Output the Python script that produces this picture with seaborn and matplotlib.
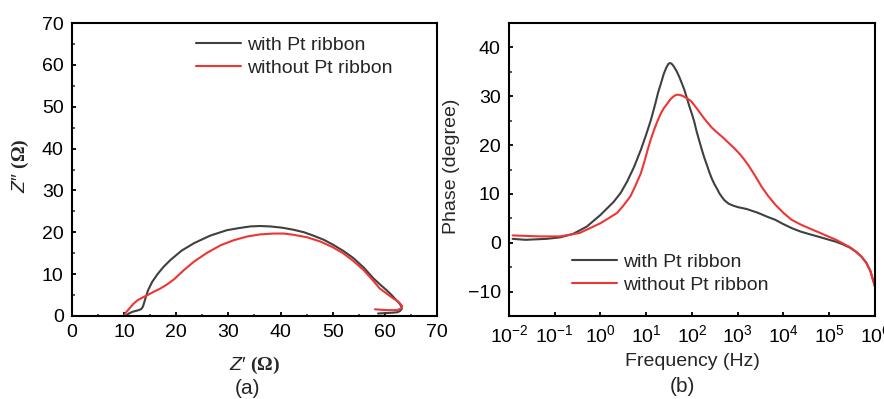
import matplotlib
matplotlib.use("Agg")
import matplotlib.pyplot as plt
import numpy as np
import pandas as pd
import seaborn as sns

sns.set_theme(style="ticks")
plt.rcParams["font.family"] = ["Liberation Sans", "DejaVu Sans"]
plt.rcParams["mathtext.fontset"] = "custom"
plt.rcParams["mathtext.rm"] = "Liberation Sans"
plt.rcParams["mathtext.it"] = "Liberation Sans:italic"
plt.rcParams["mathtext.bf"] = "Liberation Serif:bold"

SERIES = ["with Pt ribbon", "without Pt ribbon"]
COLORS = ["#404040", "#ee3535"]

# Nyquist plot (a): Z' and Z'' in ohm
zre_with = [10.3, 10.9, 11.6, 12.5, 13.2, 13.5, 13.7, 14.1, 14.6, 15.4, 16.4, 17.6, 18.9, 21.0,
            23.4, 26.5, 29.7, 32.0, 34.2, 36.0, 38.0, 40.3, 42.5, 44.5, 46.3, 48.3, 50.1,
            52.1, 54.0, 56.0, 57.8, 59.1, 60.3, 61.3, 62.2, 62.8, 63.2, 63.2, 62.9, 62.4,
            61.6, 60.2, 58.7]
zim_with = [0.0, 0.6, 1.0, 1.3, 1.6, 2.0, 2.6, 4.3, 6.2, 8.2, 10.0, 11.8, 13.4, 15.6,
            17.4, 19.2, 20.5, 21.0, 21.4, 21.5, 21.4, 21.1, 20.6, 20.0, 19.2, 18.2, 17.0,
            15.5, 13.8, 11.5, 9.0, 7.5, 6.2, 5.0, 3.8, 3.0, 2.2, 1.6, 1.2, 0.9,
            0.8, 0.7, 0.6]

zre_without = [9.9, 10.4, 11.0, 11.7, 12.5, 13.5, 14.5, 15.7, 17.0, 18.3, 19.6, 21.4, 23.4,
               25.9, 28.5, 31.0, 33.6, 36.1, 38.7, 40.6, 42.5, 45.1, 47.6, 49.9, 52.0,
               54.0, 55.9, 57.5, 59.0, 60.4, 61.6, 62.4, 62.9, 63.3, 63.2, 62.8, 62.2,
               61.2, 60.3, 59.2, 58.1]
zim_without = [0.0, 0.9, 1.8, 2.8, 3.7, 4.4, 5.0, 5.8, 6.6, 7.6, 8.8, 10.9, 13.0,
               15.1, 16.9, 18.1, 19.0, 19.5, 19.7, 19.7, 19.4, 18.8, 17.8, 16.5, 15.0,
               13.1, 11.0, 8.8, 6.6, 5.3, 4.2, 3.6, 3.0, 2.4, 1.8, 1.6, 1.4,
               1.4, 1.4, 1.5, 1.6]

# Bode phase plot (b): frequency in Hz, phase in degree
freq_with = [0.012, 0.023, 0.066, 0.13, 0.25, 0.5, 1.0, 1.95, 2.8, 3.8, 5.4, 7.6, 10.0,
             12.6, 15.8, 18.2, 20.9, 24.0, 27.5, 30.9, 33.9, 37.2, 40.7, 45.7, 52.5,
             60.3, 67.6, 77.6, 87.1, 100, 112, 126, 145, 166, 186, 214, 240, 275, 309,
             355, 398, 457, 513, 631, 794, 1000, 1580, 2820, 4470, 6610, 10000, 15100,
             23400, 35500, 60300, 100000, 141000, 195000, 282000, 380000, 501000,
             646000, 794000, 1000000]
phase_with = [0.8, 0.6, 0.8, 1.1, 1.8, 3.3, 5.7, 8.4, 10.3, 12.5, 15.5, 19.0, 22.2,
              25.1, 28.5, 30.8, 32.6, 34.5, 35.9, 36.7, 36.8, 36.5, 36.0, 35.2, 34.0,
              32.6, 31.4, 29.6, 28.0, 26.3, 24.8, 22.8, 20.8, 18.9, 17.4, 15.8, 14.4, 13.0, 12.0,
              11.0, 10.1, 9.3, 8.7, 8.0, 7.6, 7.3, 6.9, 6.1, 5.3, 4.7, 3.8, 3.0,
              2.3, 1.8, 1.2, 0.6, 0.2, -0.3, -1.0, -1.8, -2.8,
              -4.1, -5.8, -9.0]

freq_without = [0.012, 0.047, 0.13, 0.35, 1.0, 2.3, 3.16, 4.5, 5.75, 7.6, 9.1, 10.7,
                12.6, 14.8, 17.4, 20.4, 24.0, 28.8, 33.9, 39.8, 45.7, 52.5, 61.7, 70.8,
                83.2, 95.5, 112, 132, 158, 186, 224, 263, 316, 372, 457, 562, 692, 851,
                1000, 1200, 1700, 2400, 3310, 4680, 6610, 10000, 15100, 22900, 35500,
                60300, 100000, 141000, 195000, 282000, 380000, 501000, 646000, 794000,
                1000000]
phase_without = [1.5, 1.3, 1.3, 2.0, 4.0, 6.1, 7.6, 9.5, 11.6, 14.2, 16.6, 19.0,
                 21.2, 23.1, 24.8, 26.3, 27.5, 28.5, 29.4, 30.0, 30.3, 30.3, 30.1, 29.8,
                 29.4, 29.0, 28.2, 27.3, 26.3, 25.4, 24.5, 23.7, 23.0, 22.4, 21.7, 20.9, 20.1, 19.3,
                 18.6, 17.8, 15.9, 13.7, 11.5, 9.5, 7.8, 6.1, 4.7, 3.8, 3.0,
                 2.1, 1.2, 0.6, -0.1, -0.9, -1.8, -2.8, -4.1, -5.8,
                 -9.0]

nyq = pd.concat([
    pd.DataFrame({"zre": zre_with, "zim": zim_with, "sample": SERIES[0]}),
    pd.DataFrame({"zre": zre_without, "zim": zim_without, "sample": SERIES[1]}),
], ignore_index=True)
bode = pd.concat([
    pd.DataFrame({"freq": freq_with, "phase": phase_with, "sample": SERIES[0]}),
    pd.DataFrame({"freq": freq_without, "phase": phase_without, "sample": SERIES[1]}),
], ignore_index=True)

W, H = 884, 399
fig = plt.figure(figsize=(W / 100, H / 100), dpi=100)
ax1 = fig.add_axes([72 / W, 1 - 316 / H, 365 / W, 293 / H])
ax2 = fig.add_axes([509 / W, 1 - 316 / H, 366 / W, 293 / H])

palette = dict(zip(SERIES, COLORS))
sns.lineplot(data=nyq, x="zre", y="zim", hue="sample", palette=palette, sort=False,
             estimator=None, units="sample", linewidth=1.5, ax=ax1)
sns.lineplot(data=bode, x="freq", y="phase", hue="sample", palette=palette, sort=False,
             estimator=None, linewidth=1.5, ax=ax2)

fs = 14
for ax in (ax1, ax2):
    for sp in ax.spines.values():
        sp.set_linewidth(1.5)
        sp.set_color("black")
        sp.set_visible(True)
    ax.tick_params(direction="in", which="major", length=3, width=1.3, labelsize=fs,
                   colors="black", pad=6)
    ax.tick_params(direction="in", which="minor", length=1.8, width=1.1)
    ax.set_facecolor("white")

ax1.set_xlim(0, 70)
ax1.set_ylim(0, 70)
ax1.set_xticks(np.arange(0, 71, 10))
ax1.set_yticks(np.arange(0, 71, 10))
ax1.set_xticks(np.arange(5, 70, 10), minor=True)
ax1.set_yticks(np.arange(5, 70, 10), minor=True)

ax2.set_xscale("log")
ax2.set_xlim(1e-2, 1e6)
ax2.set_ylim(-15, 45)
ax2.set_xticks([10.0 ** k for k in range(-2, 7)])
ax2.xaxis.set_minor_locator(matplotlib.ticker.NullLocator())
ax2.set_yticks(np.arange(-10, 41, 10))
ax2.set_yticks(np.arange(-15, 45, 10), minor=True)

ax1.set_xlabel("")
ax1.set_ylabel("")
ax2.set_xlabel("")
ax2.set_ylabel("")

fig.text(255 / W, 1 - 365 / H, r"$\mathit{Z}$′ $\mathbf{(\Omega)}$", ha="center", va="center", fontsize=fs)
fig.text(247 / W, 1 - 388 / H, "(a)", ha="center", va="center", fontsize=fs + 1)
fig.text(20 / W, 1 - 166 / H, r"$\mathit{Z}$″ $\mathbf{(\Omega)}$", ha="center", va="center",
         fontsize=fs, rotation=90)
fig.text(692 / W, 1 - 362 / H, "Frequency (Hz)", ha="center", va="center", fontsize=fs)
fig.text(682 / W, 1 - 387 / H, "(b)", ha="center", va="center", fontsize=fs + 1)
fig.text(452 / W, 1 - 166 / H, "Phase (degree)", ha="center", va="center", fontsize=fs,
         rotation=90)

for ax, (x0, y0) in ((ax1, (196, 36)), (ax2, (572, 253))):
    handles, labels = ax.get_legend_handles_labels()
    ax.legend(handles, labels, loc="upper left", bbox_to_anchor=(x0 / W, 1 - y0 / H),
              bbox_transform=fig.transFigure, frameon=False, fontsize=fs, borderpad=0,
              borderaxespad=0, handlelength=2.3, handletextpad=0.3, labelspacing=0.3)

fig.savefig("out.png", dpi=100)
